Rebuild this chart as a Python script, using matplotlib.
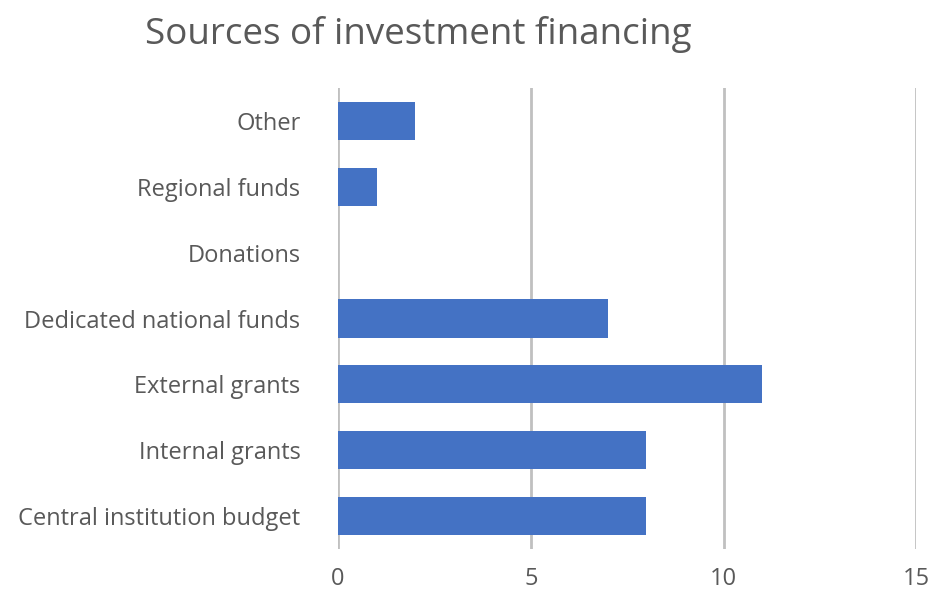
import matplotlib.pyplot as plt

# Financing sources, bottom to top as drawn
categories = ['Central institution budget', 'Internal grants', 'External grants',
              'Dedicated national funds', 'Donations', 'Regional funds', 'Other']
counts = [8, 8, 11, 7, 0, 1, 2]
ticks = [0, 5, 10, 15]

plt.rcParams['font.family'] = ['Open Sans', 'DejaVu Sans']
text_color = '#595959'

fig = plt.figure(figsize=(9.34, 5.96), dpi=100)
ax = fig.add_axes([0.362, 0.079, 0.619, 0.773])

ax.barh(categories, counts, height=0.58, color='#4472C4', linewidth=0, zorder=3)

ax.set_xlim(0, 15)
ax.set_ylim(-0.5, len(categories) - 0.5)
ax.set_xticks(ticks)
ax.set_xticklabels([str(t) for t in ticks])
ax.grid(axis='x', color='#c0c0c0', linewidth=2, zorder=0)
ax.tick_params(axis='both', length=0, labelsize=17, colors=text_color)
ax.tick_params(axis='x', pad=13)
ax.tick_params(axis='y', pad=27)
for spine in ax.spines.values():
    spine.set_visible(False)

fig.text(0.448, 0.942, 'Sources of investment financing', ha='center', va='center',
         fontsize=26.5, color=text_color)

plt.savefig('out.png', dpi=100)
